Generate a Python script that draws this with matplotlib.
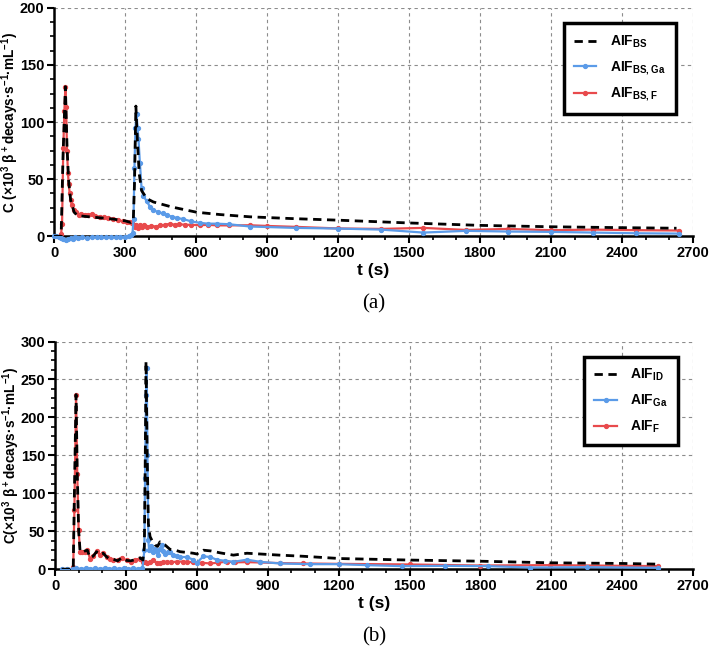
import matplotlib
matplotlib.use("Agg")
import matplotlib.pyplot as plt
from matplotlib.ticker import AutoMinorLocator

plt.rcParams["font.family"] = ["Liberation Sans", "DejaVu Sans"]
plt.rcParams["mathtext.fontset"] = "custom"
plt.rcParams["mathtext.bf"] = "Liberation Sans:bold"
plt.rcParams["mathtext.rm"] = "Liberation Sans:bold"
plt.rcParams["mathtext.default"] = "bf"

BLUE = "#5b9be8"
RED = "#e84a4c"

# ---- panel (a): bolus-separated AIFs ----
t_a_bs = [0, 30, 38, 48, 55, 62, 70, 85, 100, 150, 200, 250, 300, 325, 335, 340, 346, 352,
          360, 370, 392, 420, 500, 603, 700, 828, 1000, 1208, 1490, 1800, 2096, 2400, 2631]
c_a_bs = [0, 0, 70, 131, 78, 48, 32, 21, 18, 17, 16, 15, 13.5, 12, 13.5, 45, 114, 85,
          55, 40, 33, 30, 25.5, 21, 19, 17, 15.5, 14, 11.7, 9.5, 8.3, 7.5, 7]

t_a_f = [30, 34, 39, 44, 48, 51, 55, 59, 62, 66, 70, 75, 83, 92, 104, 115, 130, 145, 160,
         175, 194, 210, 230, 250, 270, 290, 310, 321, 330, 336, 342, 348, 355, 363, 372,
         382, 395, 410, 430, 450, 470, 490, 510, 530, 555, 580, 617, 650, 690, 740, 828,
         900, 1021, 1201, 1382, 1561, 1741, 1920, 2100, 2280, 2460, 2641]
c_a_f = [2, 11, 77, 110, 131, 113, 75, 55, 46, 38, 32, 27, 23, 21, 19, 19.5, 19, 18.5, 19.5,
         18, 17, 16.5, 16, 15, 14, 13, 12.5, 12.5, 11.5, 10, 8, 9.5, 7.5, 9.6, 8.5,
         10, 8, 9, 8.5, 9.5, 10, 11, 10, 10.5, 10, 10, 9.6, 10, 9.5, 9.5, 9.6,
         9, 8.2, 6.8, 6.4, 7.3, 5.5, 6.4, 5.3, 5.8, 5.3, 5.0]

t_a_ga = [0, 10, 20, 30, 40, 50, 60, 70, 80, 90, 100, 120, 140, 160, 180, 200, 220, 240,
          260, 280, 300, 315, 325, 332, 336, 340, 344, 349, 353, 357, 363, 370, 378, 391,
          405, 420, 440, 460, 476, 500, 520, 546, 580, 617, 650, 687, 740, 828, 1021, 1201,
          1382, 1561, 1741, 1920, 2100, 2280, 2460, 2641]
c_a_ga = [0, 0, -0.5, -1.5, -2.5, -3, -2, -1.5, -2, -1, -1.5, -1, -1.5, -1, -0.5, -1, -1, -0.5,
          -1, -0.5, -0.5, 0, 1, 3, 15, 60, 95, 107, 95, 85, 64, 42, 35, 31,
          26, 23, 21, 20, 18.5, 17, 16, 15, 13, 11.7, 11, 11, 10.5, 8.5, 7.3, 6.7,
          5.8, 3.2, 4.7, 4.1, 3.8, 3.2, 2.6, 2.3]

# ---- panel (b): image-derived AIFs ----
t_b_id = [28, 77, 82, 89, 94, 100, 106, 115, 127, 137, 148, 161, 176, 190, 204, 219, 233, 247,
          265, 282, 303, 320, 339, 360, 372, 378, 382, 385, 390, 395, 402, 410, 423, 434, 444,
          455, 465, 487, 510, 529, 560, 585, 600, 628, 660, 699, 755, 812, 868, 950, 1050,
          1206, 1502, 1798, 2095, 2405, 2553]
c_b_id = [0, 0, 100, 230, 128, 51, 24, 22, 24, 25, 15, 17, 23, 19, 21, 16, 13, 13,
          11, 15, 11.5, 11, 12.5, 15, 12, 30, 150, 274, 150, 60, 43, 38, 32, 30, 36,
          33, 32, 26, 25, 23, 22, 21, 20, 25, 24, 21.5, 18.5, 21, 20, 18.5, 17,
          14, 12, 10.5, 8.4, 7.5, 6.6]

t_b_f = [77, 82, 89, 94, 100, 106, 115, 127, 137, 148, 161, 176, 190, 204, 219, 233, 247, 265,
         282, 303, 320, 339, 360, 372, 380, 388, 400, 416, 430, 444, 458, 472, 490, 515, 540,
         560, 585, 620, 656, 690, 727, 760, 812, 868, 950, 1050, 1200, 1502, 1798, 2095, 2553]
c_b_f = [3, 78, 229, 126, 51, 23, 22, 23, 25, 14, 17, 24, 19, 21, 16, 14, 12, 12,
         15, 11.5, 10, 12.5, 14, 10, 9, 7.5, 9, 12, 8, 7.5, 9, 10, 9, 10, 10,
         9.5, 9.3, 8.5, 7.5, 8.5, 10, 9, 9.3, 8.8, 8, 7.5, 7, 6.2, 4.8, 5.3, 4]

t_b_ga = [28, 50, 77, 90, 110, 130, 150, 170, 190, 210, 230, 250, 270, 290, 310, 330, 350, 370,
          378, 381, 385, 388, 391, 395, 398, 405, 413, 423, 430, 437, 444, 451, 458, 465, 476,
          487, 500, 515, 529, 557, 585, 600, 628, 656, 684, 720, 755, 812, 868, 952, 1080,
          1200, 1319, 1467, 1650, 1834, 2010, 2250, 2553]
c_b_ga = [0, 0, 0.5, 1, 0.5, 1, 0.5, 1, 0.5, 1, 0.5, 1, 0.5, 1, 0.5, 1, 0.5, 1,
          25, 120, 230, 265, 150, 38, 25, 30, 22, 27, 24, 19, 26, 32, 24, 20, 22,
          23, 19, 17, 16, 16, 12.5, 8.4, 17, 16, 12.5, 11, 9.7, 12.5, 9.7, 7.5, 6.6,
          6.6, 5.3, 4, 4.4, 4, 2.2, 2.6, 1.8]

x_ticks = [0, 300, 600, 900, 1200, 1500, 1800, 2100, 2400, 2700]
y_ticks_a = [0, 50, 100, 150, 200]
y_ticks_b = [0, 50, 100, 150, 200, 250, 300]

fig = plt.figure(figsize=(7.09, 6.58), dpi=100)
ax_a = fig.add_axes([0.0762, 0.641, 0.901, 0.347])
ax_b = fig.add_axes([0.0776, 0.135, 0.900, 0.346])


def style_axis(ax, y_ticks, ylabel):
    ax.set_xlim(0, 2700)
    ax.set_ylim(0, y_ticks[-1])
    ax.set_xticks(x_ticks, [str(v) for v in x_ticks], fontweight="bold", fontsize=10.5)
    ax.set_yticks(y_ticks, [str(v) for v in y_ticks], fontweight="bold", fontsize=10.5)
    ax.xaxis.set_minor_locator(AutoMinorLocator(3))
    ax.yaxis.set_minor_locator(AutoMinorLocator(4))
    ax.grid(True, which="major", color="#8c8c8c", linestyle=(0, (3, 3)), linewidth=0.8)
    ax.set_axisbelow(True)
    for side in ("top", "right"):
        ax.spines[side].set_visible(False)
    for side in ("left", "bottom"):
        ax.spines[side].set_linewidth(1.8)
    ax.tick_params(which="major", direction="out", length=5, width=1.5, pad=2)
    ax.tick_params(which="minor", direction="out", length=3, width=1.2)
    ax.set_xlabel("t (s)", fontsize=12.5, fontweight="bold", labelpad=2)
    ax.set_ylabel(ylabel, fontsize=9.8, fontweight="bold",
                  family=["Liberation Sans Narrow", "Liberation Sans"])
    ax.yaxis.set_label_coords(-0.052, 0.5)


def add_legend(ax, handles, labels, bbox):
    leg = ax.legend(handles, labels, loc="upper right", bbox_to_anchor=bbox,
                    prop={"weight": "bold", "size": 10},
                    frameon=True, fancybox=False, framealpha=1, handlelength=1.6,
                    labelspacing=0.68, borderpad=0.75, handletextpad=0.95, borderaxespad=0)
    leg.get_frame().set_edgecolor("black")
    leg.get_frame().set_linewidth(2.5)


# (a)
la_f, = ax_a.plot(t_a_f, c_a_f, "-o", color=RED, lw=1.6, ms=2.8, zorder=3, clip_on=False)
la_ga, = ax_a.plot(t_a_ga, c_a_ga, "-o", color=BLUE, lw=1.6, ms=2.8, zorder=4, clip_on=False)
la_bs, = ax_a.plot(t_a_bs, c_a_bs, color="black", lw=2.0, linestyle=(0, (3, 2)), zorder=5)
style_axis(ax_a, y_ticks_a, "C (×10$^3$ β$^+$decays·s$^{-1}$·mL$^{-1}$)")
add_legend(ax_a, [la_bs, la_ga, la_f], ["AIF$_{BS}$", "AIF$_{BS,Ga}$", "AIF$_{BS,F}$"],
           (0.973, 0.934))
ax_a.text(0.5, -0.255, "(a)", transform=ax_a.transAxes, ha="center", va="top",
          fontsize=15, fontweight="normal", family="Liberation Serif")

# (b)
lb_f, = ax_b.plot(t_b_f, c_b_f, "-o", color=RED, lw=1.6, ms=2.8, zorder=3)
lb_ga, = ax_b.plot(t_b_ga, c_b_ga, "-o", color=BLUE, lw=1.6, ms=2.8, zorder=4)
lb_id, = ax_b.plot(t_b_id, c_b_id, color="black", lw=2.0, linestyle=(0, (3, 2)), zorder=5)
style_axis(ax_b, y_ticks_b, "C(×10$^3$ β$^+$decays·s$^{-1}$·mL$^{-1}$)")
add_legend(ax_b, [lb_id, lb_ga, lb_f], ["AIF$_{ID}$", "AIF$_{Ga}$", "AIF$_{F}$"],
           (0.976, 0.934))
ax_b.text(0.5, -0.255, "(b)", transform=ax_b.transAxes, ha="center", va="top",
          fontsize=15, fontweight="normal", family="Liberation Serif")

fig.savefig("out.png", dpi=100)
